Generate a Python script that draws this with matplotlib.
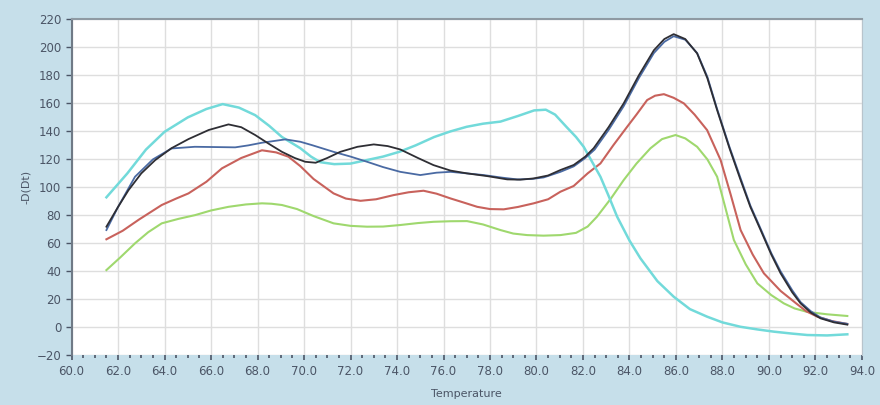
import numpy as np
import matplotlib
matplotlib.use("Agg")
import matplotlib.pyplot as plt
from matplotlib.ticker import MultipleLocator, FormatStrFormatter

# melt curve samples (temperature, -D(Dt))
cyan_t = [61.5, 62.4, 63.2, 64.0, 65.0, 65.8, 66.5, 67.2, 67.9, 68.5, 69.05, 69.84, 70.3, 70.7,
          71.3, 72.0, 72.7, 73.4, 74.1, 74.8, 75.6, 76.3, 77.0, 77.7, 78.45, 79.2, 79.9, 80.4,
          80.8, 81.3, 81.7, 82.03, 82.4, 82.75, 83.1, 83.47, 84.0, 84.47, 85.2, 85.9, 86.6,
          87.34, 88.0, 88.77, 89.5, 90.21, 91.0, 91.65, 92.5, 93.37]
cyan_v = [92.9, 110, 127, 139.7, 150, 156, 159.5, 157, 151.6, 144, 136, 128, 122, 118,
          116.6, 117, 119.5, 122, 125.4, 130, 136, 140, 143.3, 145.5, 147, 151, 155, 155.5,
          152, 143, 136, 129, 118, 107.6, 94, 79, 62, 49.3, 33, 21.9, 13,
          7.6, 3.5, 0.4, -1.5, -3.1, -4.5, -5.5, -5.8, -5.0]

black_t = [61.5, 62.0, 62.45, 63.0, 63.6, 64.3, 65.03, 65.9, 66.75, 67.3, 67.9, 68.5, 69.05,
           69.6, 70.05, 70.5, 71.0, 71.56, 72.3, 73.0, 73.6, 74.14, 74.9, 75.57, 76.3, 77.01,
           77.9, 78.74, 79.3, 79.88, 80.5, 81.03, 81.6, 82.1, 82.46, 83.1, 83.75, 84.4, 85.05,
           85.5, 85.9, 86.4, 86.91, 87.35, 87.77, 88.3, 88.78, 89.2, 89.64, 90.1, 90.5, 91.0,
           91.36, 91.8, 92.22, 92.8, 93.37]
black_v = [71.9, 86, 98, 110, 119.5, 128, 134.5, 141, 145, 143, 137.4, 131, 125.4,
           121, 118.3, 117.6, 121, 125.4, 129, 130.7, 129.5, 127.1, 121, 115.9, 112, 110,
           108, 105.7, 105.5, 106.4, 108.5, 112.4, 116, 122, 128, 143, 160, 180, 198,
           206, 209.5, 206, 195.7, 178, 155.2, 128, 105.2, 86, 69.5, 52, 38.6, 25,
           17.1, 10.5, 6.4, 3.5, 1.9]

blue_t = [61.5, 62.0, 62.73, 63.5, 64.3, 65.3, 66.2, 67.04, 67.6, 68.19, 69.2, 69.84, 70.34,
          71.27, 72.0, 72.71, 73.4, 74.14, 75.0, 75.7, 76.3, 77.0, 77.73, 78.5, 79.17, 79.8,
          80.31, 81.03, 81.6, 82.1, 82.5, 83.1, 83.75, 84.4, 85.05, 85.5, 85.9, 86.4, 86.91,
          87.35, 87.77, 88.3, 88.78, 89.2, 89.64, 90.1, 90.5, 91.0, 91.36, 91.8, 92.22, 92.8,
          93.37]
blue_v = [69.5, 86, 107.6, 120, 127.8, 129, 128.8, 128.6, 130, 131.9, 134.3, 132.6, 130.2,
          125.4, 122, 118.3, 114.5, 111.1, 108.8, 110.5, 111.1, 110, 108.8, 107, 105.7, 106,
          107.1, 111.1, 115, 121, 127, 141, 158, 178, 196, 204, 208, 205.5, 196,
          179, 156, 129, 106.5, 87, 70.5, 53, 40, 26.5, 18, 11.5, 7, 4, 2.5]

red_t = [61.5, 62.2, 62.9, 63.88, 64.5, 65.03, 65.8, 66.47, 67.3, 68.19, 68.8, 69.33, 69.84,
         70.41, 71.27, 71.8, 72.43, 73.1, 73.86, 74.5, 75.14, 75.7, 76.3, 76.9, 77.45, 78.0,
         78.59, 79.2, 79.88, 80.5, 81.03, 81.6, 82.2, 82.75, 83.3, 83.9, 84.3, 84.76, 85.1,
         85.48, 85.9, 86.34, 86.8, 87.34, 87.92, 88.35, 88.78, 89.3, 89.78, 90.5, 91.17,
         91.6, 92.08, 92.7, 93.37]
red_v = [62.9, 69, 77, 87.4, 92, 95.7, 104, 113.6, 121, 126.5, 125, 121.9, 115.2,
         106, 95.7, 92, 90.4, 91.5, 94.5, 96.5, 97.6, 95.5, 92.1, 89, 86.1, 84.5,
         84.3, 86, 88.6, 91.5, 96.9, 101, 110, 117.1, 130, 143.3, 152, 162.4, 165.5,
         166.6, 164, 160, 152, 140.9, 119.5, 95, 69.5, 52, 38.6, 26, 17.1,
         11.5, 7.6, 4.5, 2.4]

green_t = [61.5, 62.1, 62.73, 63.3, 63.88, 64.6, 65.32, 66.0, 66.75, 67.5, 68.19, 68.6, 69.05,
           69.7, 70.41, 71.27, 72.0, 72.71, 73.4, 74.14, 74.9, 75.57, 76.3, 77.01, 77.7, 78.45,
           79.0, 79.6, 80.3, 81.03, 81.7, 82.2, 82.6, 83.2, 83.75, 84.3, 84.9, 85.4, 85.98,
           86.4, 86.91, 87.35, 87.77, 88.1, 88.49, 89.0, 89.5, 90.1, 90.64, 91.1, 91.65,
           92.5, 93.37]
green_v = [40.9, 50, 60, 68, 74.3, 77.5, 80.2, 83.5, 86.1, 87.8, 88.6, 88.3, 87.4,
           84.5, 79.5, 74.3, 72.5, 71.9, 72, 73.1, 74.5, 75.4, 75.8, 75.9, 73.5, 69.5,
           67, 65.9, 65.5, 65.9, 67.5, 72, 79, 92, 105.2, 117, 127.9, 134.5, 137.4,
           135, 129, 120, 107.6, 87, 62.4, 45, 31.4, 23, 17.1, 13.5, 11,
           9.3, 8.1]

x_ticks = np.arange(60, 94.1, 2)
y_ticks = np.arange(-20, 221, 20)

bg = "#c6dfea"
txt = "#4b5566"

fig = plt.figure(figsize=(8.8, 4.05), dpi=100, facecolor=bg)
ax = fig.add_axes([0.0813, 0.1227, 0.8982, 0.8293])
ax.set_facecolor("white")

ax.plot(green_t, green_v, color="#9fd86e", lw=1.5)
ax.plot(red_t, red_v, color="#c8625c", lw=1.5)
ax.plot(cyan_t, cyan_v, color="#72dada", lw=1.8)
ax.plot(blue_t, blue_v, color="#4a6aa3", lw=1.3)
ax.plot(black_t, black_v, color="#2e2e34", lw=1.3)

ax.set_xlim(60, 94)
ax.set_ylim(-20, 220)
ax.set_xticks(x_ticks)
ax.set_yticks(y_ticks)
ax.xaxis.set_minor_locator(MultipleLocator(0.5))
ax.xaxis.set_major_formatter(FormatStrFormatter("%.1f"))
ax.grid(True, which="major", color="#dedede", lw=1)
ax.set_axisbelow(True)

ax.tick_params(axis="both", which="major", labelsize=8.5, colors=txt, length=4, width=1)
ax.tick_params(axis="x", which="minor", length=2.5, width=1.2, colors=txt)
ax.tick_params(axis="x", which="major", length=3.5, width=1.2)

ax.spines["right"].set_color("#b8c4cc")
ax.spines["top"].set_color("#8f9aa3")
ax.spines["top"].set_linewidth(1.5)
ax.spines["left"].set_color("#6f7a86")
ax.spines["left"].set_linewidth(1.5)
ax.spines["bottom"].set_visible(False)

ax.set_xlabel("Temperature", fontsize=8, color=txt, labelpad=8)
ax.set_ylabel("-D(Dt)", fontsize=8, color=txt, labelpad=4)

fig.savefig("out.png", dpi=100, facecolor=bg)
